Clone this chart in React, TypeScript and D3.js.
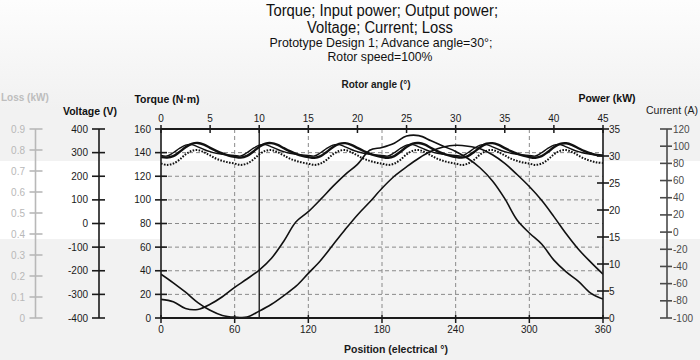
import React from 'react';
import * as d3 from 'd3';

// electrical position grid (deg)
const posCoarse = d3.range(0, 361, 10);
const posFine = d3.range(0, 361, 5);

// torque (N·m), thick ripple line, every 5° electrical
const torque = [
  136.2, 135.8, 137.0, 140.5, 144.5, 147.5, 148.2, 146.8, 144.0, 141.5, 139.3, 137.5,
  136.4, 135.8, 137.2, 140.8, 144.8, 147.6, 148.0, 146.5, 143.8, 141.2, 139.0, 137.3,
  136.2, 135.6, 137.0, 140.6, 144.6, 147.4, 148.0, 146.6, 144.0, 141.4, 139.2, 137.4,
  136.3, 135.7, 137.1, 140.7, 144.7, 147.6, 148.1, 146.7, 143.9, 141.3, 139.1, 137.5,
  136.3, 135.8, 137.1, 140.6, 144.6, 147.5, 148.0, 146.5, 143.8, 141.3, 139.2, 137.4,
  136.2, 135.7, 137.0, 140.5, 144.5, 147.4, 147.9, 146.4, 143.7, 141.2, 139.3, 138.0,
  137.5,
];

// input power (kW), thin line
const inputPower = [
  30.1, 30.0, 30.6, 31.4, 32.0, 32.1, 31.7, 31.2, 30.8, 30.5, 30.3, 30.2,
  30.1, 30.0, 30.6, 31.4, 32.0, 32.1, 31.7, 31.2, 30.8, 30.5, 30.3, 30.2,
  30.1, 30.0, 30.6, 31.4, 32.0, 32.1, 31.7, 31.2, 30.8, 30.5, 30.3, 30.2,
  30.1, 30.0, 30.6, 31.4, 32.0, 32.1, 31.7, 31.2, 30.8, 30.5, 30.3, 30.2,
  30.1, 30.0, 30.6, 31.4, 32.0, 32.1, 31.7, 31.2, 30.8, 30.5, 30.3, 30.2,
  30.1, 30.0, 30.6, 31.4, 32.0, 32.1, 31.7, 31.2, 30.8, 30.5, 30.3, 30.2,
  30.1,
];

// output power (kW), dotted
const outputPower = [
  28.6, 28.35, 28.6, 29.3, 30.3, 30.95, 31.1, 30.7, 30.1, 29.5, 29.1, 28.8,
  28.6, 28.35, 28.6, 29.3, 30.3, 30.95, 31.1, 30.7, 30.1, 29.5, 29.1, 28.8,
  28.6, 28.35, 28.6, 29.3, 30.3, 30.95, 31.1, 30.7, 30.1, 29.5, 29.1, 28.8,
  28.6, 28.35, 28.6, 29.3, 30.3, 30.95, 31.1, 30.7, 30.1, 29.5, 29.1, 28.8,
  28.6, 28.35, 28.6, 29.3, 30.3, 30.95, 31.1, 30.7, 30.1, 29.5, 29.1, 28.8,
  28.6, 28.35, 28.6, 29.3, 30.3, 30.95, 31.1, 30.7, 30.1, 29.5, 29.1, 28.8,
  28.7,
];

// phase voltage (V), every 10°
const voltage = [
  -321, -331, -360, -364, -342, -310, -270, -235, -197, -147, -75, 7, 50,
  102, 157, 207, 250, 310, 322, 340, 370, 372, 350, 327, 305, 275,
  235, 180, 105, 15, -40, -87, -155, -205, -245, -295, -320,
];

// phase current (A), every 10°
const current = [
  -49, -59, -70, -82, -91, -97, -99, -99, -92, -84, -74, -63, -48,
  -33, -15, 3, 20, 35, 51, 65, 76, 86, 94, 99, 101, 100,
  97, 90, 80, 67, 53, 37, 18, -2, -20, -35, -49,
];

const cursorRotor = 10;

const rotorTicks = [0, 5, 10, 15, 20, 25, 30, 35, 40, 45];
const posTicks = [0, 60, 120, 180, 240, 300, 360];
const torqueTicks = [0, 20, 40, 60, 80, 100, 120, 140, 160];
const powerTicks = [0, 5, 10, 15, 20, 25, 30, 35];
const voltTicks = [-400, -300, -200, -100, 0, 100, 200, 300, 400];
const currentTicks = [-100, -80, -60, -40, -20, 0, 20, 40, 60, 80, 100, 120];
const lossTicks = [0, 0.1, 0.2, 0.3, 0.4, 0.5, 0.6, 0.7, 0.8, 0.9];

const L = 161, R = 603, T = 129, B = 318;
const font = 'Arial, "Liberation Sans", sans-serif';

const x = d3.scaleLinear().domain([0, 360]).range([L, R]);
const xRotor = d3.scaleLinear().domain([0, 45]).range([L, R]);
const yTorque = d3.scaleLinear().domain([0, 160]).range([B, T]);
const yPower = d3.scaleLinear().domain([0, 35]).range([B, T]);
const yVolt = d3.scaleLinear().domain([-400, 400]).range([B, T]);
const yCur = d3.scaleLinear().domain([-100, 120]).range([B, T]);
const yLoss = d3.scaleLinear().domain([0, 0.9]).range([B, T]);

function VAxis({ ax, scale, ticks, color, labelSide, labelX, t1, t2, fmt }: any) {
  const [d0, d1] = scale.domain();
  return (
    <g stroke={color} fill={color}>
      <line x1={ax} x2={ax} y1={scale(d0)} y2={scale(d1)} strokeWidth={1.6} />
      {ticks.map((v: number) => (
        <g key={v}>
          <line x1={ax + t1} x2={ax + t2} y1={scale(v)} y2={scale(v)} strokeWidth={1.6} />
          <text x={labelX} y={scale(v) + 3.5} stroke="none" fontSize={10}
            textAnchor={labelSide === 'left' ? 'end' : 'start'}>{fmt ? fmt(v) : v}</text>
        </g>
      ))}
    </g>
  );
}

export default function App() {
  const lineFine = (ys: number[], sc: any) =>
    d3.line<number>().x((_, i) => x(posFine[i])).y((v) => sc(v)).curve(d3.curveCatmullRom)(ys) as string;
  const lineCoarse = (ys: number[], sc: any) =>
    d3.line<number>().x((_, i) => x(posCoarse[i])).y((v) => sc(v)).curve(d3.curveCatmullRom)(ys) as string;

  return (
    <div style={{ position: 'fixed', left: 0, top: 0 }}>
      <svg width={700} height={360} style={{ display: 'block', fontFamily: font }}>
        <defs>
          <linearGradient id="topbg" x1="0" y1="0" x2="0" y2="1">
            <stop offset="0" stopColor="#fdfdfd" />
            <stop offset="1" stopColor="#f1f1f1" />
          </linearGradient>
          <clipPath id="plot"><rect x={L} y={T} width={R - L} height={B - T} /></clipPath>
        </defs>
        <rect width={700} height={360} fill="#f2f2f2" />
        <rect width={700} height={110} fill="url(#topbg)" />
        <rect y={161} width={700} height={78} fill="#ffffff" />
        <rect x={L} y={T} width={R - L} height={32} fill="#ffffff" />
        <rect x={L} y={161} width={R - L} height={B - 161} fill="#f3f3f3" />

        {/* titles */}
        <g fill="#111" textAnchor="middle">
          <text x={382} y={16} fontSize={16} textLength={232} lengthAdjust="spacingAndGlyphs">Torque; Input power; Output power;</text>
          <text x={380} y={33} fontSize={16} textLength={146} lengthAdjust="spacingAndGlyphs">Voltage; Current; Loss</text>
          <text x={381} y={47} fontSize={13} textLength={223} lengthAdjust="spacingAndGlyphs">Prototype Design 1; Advance angle=30°;</text>
          <text x={380} y={61} fontSize={13} textLength={105} lengthAdjust="spacingAndGlyphs">Rotor speed=100%</text>
        </g>

        {/* grid */}
        <g stroke="#8a8a8a" strokeWidth={1} strokeDasharray="4,3">
          {torqueTicks.filter((v) => v > 0 && v < 160).map((v) => (
            <line key={'h' + v} x1={L} x2={R} y1={yTorque(v)} y2={yTorque(v)} />
          ))}
          {posTicks.filter((v) => v > 0 && v < 360).map((v) => (
            <line key={'v' + v} x1={x(v)} x2={x(v)} y1={T} y2={B} />
          ))}
        </g>

        {/* cursor */}
        <line x1={xRotor(cursorRotor)} x2={xRotor(cursorRotor)} y1={T} y2={B} stroke="#111" strokeWidth={1.3} />

        {/* curves */}
        <g clipPath="url(#plot)" fill="none" stroke="#111" strokeLinejoin="round">
          <path d={lineCoarse(current, yCur)} strokeWidth={1.6} />
          <path d={lineCoarse(voltage, yVolt)} strokeWidth={1.6} />
          <path d={lineFine(outputPower, yPower)} strokeWidth={2} strokeDasharray="1.6,1.4" />
          <path d={lineFine(inputPower, yPower)} strokeWidth={1.4} />
          <path d={lineFine(torque, yTorque)} strokeWidth={2.4} />
        </g>

        {/* top rotor angle axis */}
        <g stroke="#1a1a1a" fill="#1a1a1a">
          <line x1={L} x2={R} y1={T} y2={T} strokeWidth={1.8} />
          {rotorTicks.map((v) => (
            <g key={v}>
              <line x1={xRotor(v)} x2={xRotor(v)} y1={T - 4} y2={T + 4} strokeWidth={1.5} />
              <text x={xRotor(v)} y={122} fontSize={10} textAnchor="middle" stroke="none">{v}</text>
            </g>
          ))}
          <text x={376} y={88} fontSize={10} fontWeight="bold" textAnchor="middle" stroke="none">Rotor angle (°)</text>
        </g>

        {/* bottom position axis */}
        <g stroke="#1a1a1a" fill="#1a1a1a">
          <line x1={L} x2={R} y1={B} y2={B} strokeWidth={1.8} />
          {posTicks.map((v) => (
            <g key={v}>
              <line x1={x(v)} x2={x(v)} y1={B - 3} y2={B + 5} strokeWidth={1.5} />
              <text x={x(v)} y={333} fontSize={10} textAnchor="middle" stroke="none">{v}</text>
            </g>
          ))}
          <text x={396} y={353} fontSize={10.5} fontWeight="bold" textAnchor="middle" stroke="none">Position (electrical °)</text>
        </g>

        <VAxis ax={L} scale={yTorque} ticks={torqueTicks} color="#1a1a1a" labelSide="left" labelX={151} t1={-6} t2={6} />
        <VAxis ax={R} scale={yPower} ticks={powerTicks} color="#1a1a1a" labelSide="right" labelX={609} t1={-6} t2={6} />
        <VAxis ax={99} scale={yVolt} ticks={voltTicks} color="#1a1a1a" labelSide="left" labelX={88} t1={-7} t2={6} />
        <VAxis ax={667} scale={yCur} ticks={currentTicks} color="#4a4a4a" labelSide="right" labelX={673} t1={-7} t2={5} />
        <VAxis ax={35.5} scale={yLoss} ticks={lossTicks} color="#b8b8b8" labelSide="left" labelX={25} t1={-6} t2={7} />

        {/* axis titles */}
        <g fontSize={10.5} fontWeight="bold">
          <text x={167} y={103} textAnchor="middle" fill="#111">Torque (N·m)</text>
          <text x={90} y={115} textAnchor="middle" fill="#111">Voltage (V)</text>
          <text x={607} y={102} textAnchor="middle" fill="#111">Power (kW)</text>
          <text x={1} y={101} textAnchor="start" fill="#bdbdbd" fontSize={10}>Loss (kW)</text>
        </g>
        <text x={672} y={114} fontSize={10.5} textAnchor="middle" fill="#222">Current (A)</text>
      </svg>
    </div>
  );
}
